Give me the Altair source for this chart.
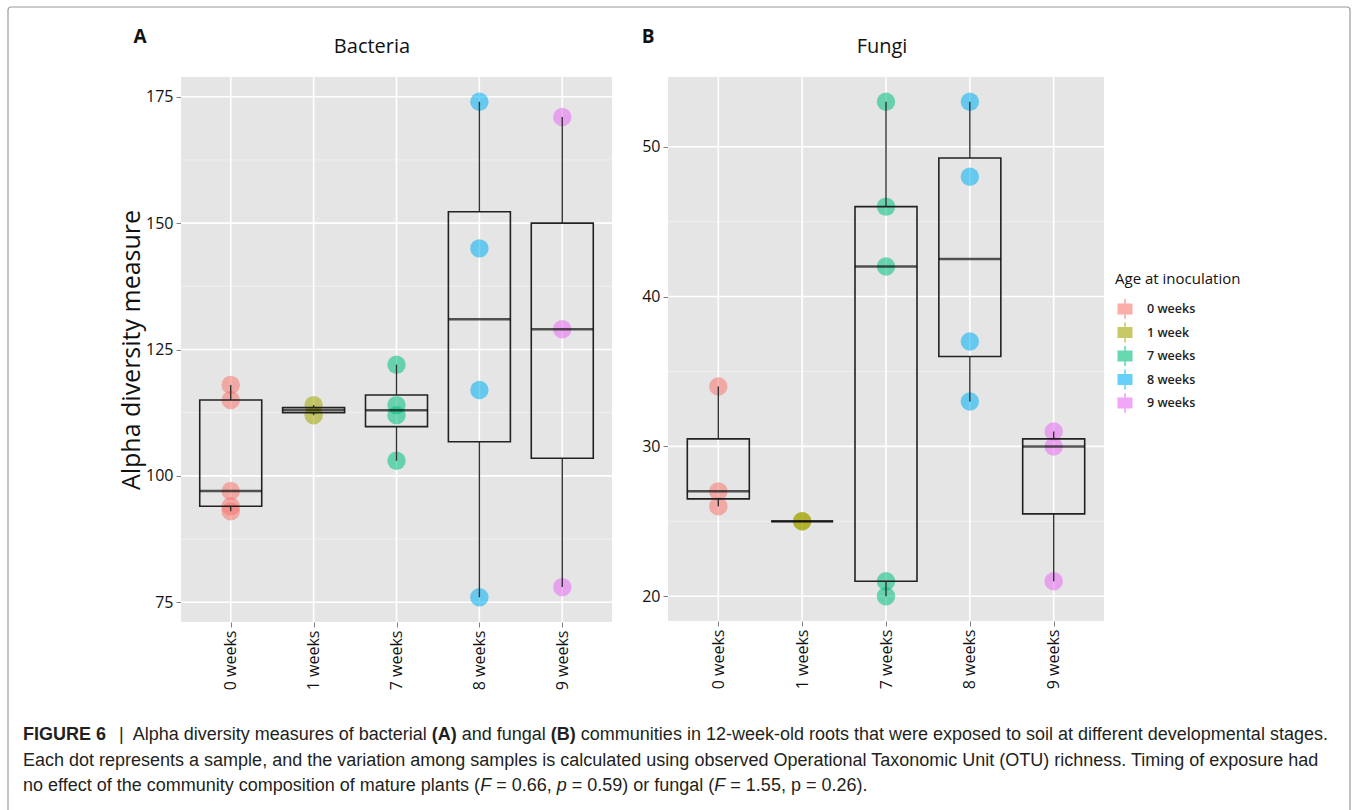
import altair as alt
import pandas as pd

# ---------------------------------------------------------------- data
AGES = ["0 weeks", "1 weeks", "7 weeks", "8 weeks", "9 weeks"]
AGE_COLORS = ["#F8766D", "#A3A500", "#00BF7D", "#00B0F6", "#E76BF3"]

# observed OTU richness per sample, bacteria
BAC_0 = [93, 94, 97, 115, 118]
BAC_1 = [112, 114]
BAC_7 = [103, 112, 114, 122]
BAC_8 = [76, 117, 145, 174]
BAC_9 = [78, 129, 171]

# observed OTU richness per sample, fungi
FUN_0 = [26, 27, 34]
FUN_1 = [25, 25]
FUN_7 = [20, 21, 42, 46, 53]
FUN_8 = [33, 37, 48, 53]
FUN_9 = [21, 30, 31]

BAC_TICKS = [75, 100, 125, 150, 175]
BAC_MINOR = [87.5, 112.5, 137.5, 162.5]
FUN_TICKS = [20, 30, 40, 50]
FUN_MINOR = [25, 35, 45]

# ---------------------------------------------------------------- layout
W, H = 1354, 810
FRAME_A = (181, 612, 77, 622)   # x0, x1, y0, y1 of the Bacteria panel
FRAME_B = (668, 1104, 77, 621)  # x0, x1, y0, y1 of the Fungi panel
FONT = "Open Sans"
CAP_FONT = "Liberation Sans"
CAP_SIZE = 18

# Helvetica/Arial advance widths (1/1000 em) for caption layout
_REG = {" ": 278, "(": 333, ")": 333, ",": 278, "-": 333, ".": 278, "=": 584, "|": 260}
_REG.update({d: 556 for d in "0123456789"})
_REG.update(dict(zip("ABCDEFGHIJKLMNOPQRSTUVWXYZ",
                     [667, 667, 722, 722, 667, 611, 778, 722, 278, 500, 667, 556, 833,
                      722, 778, 667, 778, 722, 667, 611, 722, 667, 944, 667, 667, 611])))
_REG.update(dict(zip("abcdefghijklmnopqrstuvwxyz",
                     [556, 556, 500, 556, 556, 278, 556, 556, 222, 222, 500, 222, 833,
                      556, 556, 556, 556, 333, 500, 278, 556, 500, 722, 500, 500, 500])))
_BOLD = dict(_REG)
_BOLD.update({"A": 722, "B": 722, "R": 722, "U": 722})


def text_width(s, style, size):
    table = _BOLD if style == "bold" else _REG
    return sum(table.get(ch, 556) for ch in s) * size / 1000.0


CAPTION = [
    (735, 132.7, [("Alpha diversity measures of bacterial ", "regular"), ("(A)", "bold"),
                  (" and fungal ", "regular"), ("(B)", "bold"),
                  (" communities in 12-week-old roots that were exposed to soil at different developmental stages.", "regular")]),
    (760.5, 23, [("Each dot represents a sample, and the variation among samples is calculated using observed "
                  "Operational Taxonomic Unit (OTU) richness. Timing of exposure had", "regular")]),
    (786, 23, [("no effect of the community composition of mature plants (", "regular"), ("F", "italic"),
               (" = 0.66, ", "regular"), ("p", "italic"),
               (" = 0.59) or fungal (", "regular"), ("F", "italic"),
               (" = 1.55, p = 0.26).", "regular")]),
]

cap_rows = [{"text": "FIGURE 6", "x": 23, "y": 735, "style": "bold"},
            {"text": "|", "x": 119, "y": 735, "style": "regular"}]
for y, x, parts in CAPTION:
    for txt, style in parts:
        lead = len(txt) - len(txt.lstrip(" "))
        cap_rows.append({"text": txt.strip(" "), "x": x + text_width(" " * lead, style, CAP_SIZE),
                         "y": y, "style": style})
        x += text_width(txt, style, CAP_SIZE)
captions = pd.DataFrame(cap_rows)


def long_table(groups):
    return pd.DataFrame([{"age": a, "value": v} for a, vals in zip(AGES, groups) for v in vals])


LEGEND = alt.Legend(
    orient="none", legendX=1115, legendY=272, padding=0,
    title="Age at inoculation", titleFont=FONT, titleFontSize=15, titleFontWeight="normal",
    titleColor="#111", titlePadding=12,
    labelFont=FONT, labelFontSize=12.5, labelFontWeight=600, labelColor="#222", labelOffset=12,
    labelExpr="datum.label == '1 weeks' ? '1 week' : datum.label",
    symbolType="M-0.75,-0.55H0.75V0.55H-0.75Z M-0.08,-1H0.08V-0.55H-0.08Z M-0.08,0.55H0.08V1H-0.08Z",
    symbolSize=400, symbolOpacity=0.6, symbolStrokeWidth=0, rowPadding=3.5,
)


def panel(groups, domain, ticks, minor, frame, y_title):
    x0, x1, y0, y1 = frame
    data = long_table(groups)
    xscale = alt.Scale(type="point", domain=AGES, range=[x0, x1], padding=0.6)
    yscale = alt.Scale(domain=domain, range=[y1, y0], nice=False, zero=False)
    xaxis = alt.Axis(orient="bottom", offset=y1 - H, grid=False, domain=False,
                     tickColor="#808080", tickSize=5, labelAngle=-90, labelPadding=3,
                     labelFont=FONT, labelFontSize=16, labelColor="#111", title=None)
    yaxis = alt.Axis(orient="left", offset=-x0, grid=False, domain=False, values=ticks,
                     tickColor="#808080", tickSize=5, labelPadding=3,
                     labelFont=FONT, labelFontSize=16, labelColor="#111",
                     title=y_title, titleFont=FONT, titleFontSize=25, titleFontWeight="normal",
                     titleColor="#111", titlePadding=1)

    def X(field="age:N"):
        return alt.X(field, scale=xscale, axis=xaxis)

    def Y(field):
        return alt.Y(field, scale=yscale, axis=yaxis)

    one = pd.DataFrame({"k": [0]})
    background = alt.Chart(one).mark_rect(color="#E5E5E5").encode(
        x=alt.value(x0), x2=alt.value(x1), y=alt.value(y0), y2=alt.value(y1))
    minor_grid = alt.Chart(pd.DataFrame({"tick": minor})).mark_rule(
        color="#F0F0F0", strokeWidth=1).encode(y=Y("tick:Q"), x=alt.value(x0), x2=alt.value(x1))
    major_grid = alt.Chart(pd.DataFrame({"tick": ticks})).mark_rule(
        color="white", strokeWidth=1.6).encode(y=Y("tick:Q"), x=alt.value(x0), x2=alt.value(x1))
    vert_grid = alt.Chart(pd.DataFrame({"age": AGES})).mark_rule(
        color="white", strokeWidth=1.6).encode(x=X(), y=alt.value(y0), y2=alt.value(y1))

    points = alt.Chart(data).mark_circle(size=340, opacity=0.55).encode(
        x=X(), y=Y("value:Q"),
        color=alt.Color("age:N", scale=alt.Scale(domain=AGES, range=AGE_COLORS), legend=LEGEND),
    )

    stats = alt.Chart(data).transform_aggregate(
        lo="min(value)", q1="q1(value)", med="median(value)", q3="q3(value)", hi="max(value)",
        groupby=["age"])
    lower = stats.mark_rule(color="#333", strokeWidth=1.4).encode(x=X(), y=Y("lo:Q"), y2="q1:Q")
    upper = stats.mark_rule(color="#333", strokeWidth=1.4).encode(x=X(), y=Y("q3:Q"), y2="hi:Q")
    box = stats.mark_bar(size=62, fill="#E5E5E5", fillOpacity=0, stroke="#222",
                         strokeWidth=1.6).encode(x=X(), y=Y("q1:Q"), y2="q3:Q")
    median = stats.mark_tick(size=62, thickness=2.5, color="#111").encode(x=X(), y=Y("med:Q"))

    return alt.layer(background, minor_grid, major_grid, vert_grid, points,
                     lower, upper, box, median)


bacteria = panel([BAC_0, BAC_1, BAC_7, BAC_8, BAC_9], [71.1, 178.9],
                 BAC_TICKS, BAC_MINOR, FRAME_A, "Alpha diversity measure")
fungi = panel([FUN_0, FUN_1, FUN_7, FUN_8, FUN_9], [18.35, 54.65],
              FUN_TICKS, FUN_MINOR, FRAME_B, None)

# figure frame
frame = alt.Chart(pd.DataFrame({"k": [0]})).mark_rect(
    fill="white", fillOpacity=0, stroke="#9a9a9a", strokeWidth=1.2, cornerRadius=3).encode(
    x=alt.value(8), x2=alt.value(1350), y=alt.value(7), y2=alt.value(830))

# panel titles and letters
heads = pd.DataFrame({
    "text": ["Bacteria", "Fungi", "A", "B"],
    "x": [372, 882, 140, 648],
    "y": [47, 47, 37, 37],
    "kind": ["title", "title", "letter", "letter"],
})
titles = alt.Chart(heads).transform_filter("datum.kind == 'title'").mark_text(
    font=FONT, fontSize=20, color="#111", align="center", baseline="middle").encode(
    x=alt.X("x:Q", scale=None), y=alt.Y("y:Q", scale=None), text="text:N")
letters = alt.Chart(heads).transform_filter("datum.kind == 'letter'").mark_text(
    font=FONT, fontSize=19, fontWeight="bold", color="#111", align="center", baseline="middle").encode(
    x=alt.X("x:Q", scale=None), y=alt.Y("y:Q", scale=None), text="text:N")


def caption_layer(style):
    mark = dict(font=CAP_FONT, fontSize=CAP_SIZE, color="#231F20", align="left", baseline="middle")
    if style == "bold":
        mark["fontWeight"] = "bold"
    if style == "italic":
        mark["fontStyle"] = "italic"
    return alt.Chart(captions).transform_filter(f"datum.style == '{style}'").mark_text(**mark).encode(
        x=alt.X("x:Q", scale=None), y=alt.Y("y:Q", scale=None), text="text:N")


chart = alt.layer(
    frame, bacteria, fungi, titles, letters,
    caption_layer("regular"), caption_layer("bold"), caption_layer("italic"),
).resolve_scale(x="independent", y="independent").properties(
    width=W, height=H, autosize="none", padding=0, background="white"
).configure_view(stroke=None)

chart.save("out.html", embed_options={"renderer": "svg", "actions": False})
